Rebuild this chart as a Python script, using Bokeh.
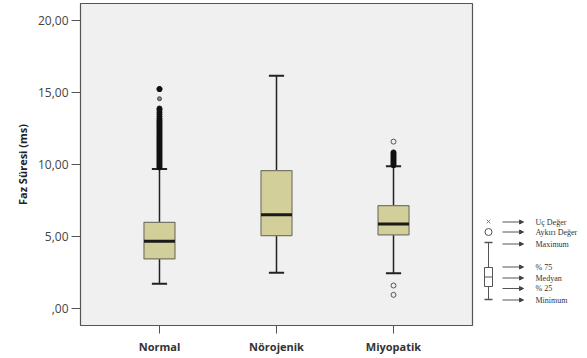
from bokeh.plotting import figure
from bokeh.layouts import row
from bokeh.models import FixedTicker, Range1d, Arrow, NormalHead
from bokeh.embed import file_html
from bokeh.resources import INLINE
from bokeh.core.properties import value

# ---------------- data ----------------
categories = ["Normal", "Nörojenik", "Miyopatik"]
lower_whisker = [1.72, 2.48, 2.45]
q1 = [3.45, 5.07, 5.12]
median = [4.67, 6.51, 5.88]
q3 = [5.99, 9.58, 7.15]
upper_whisker = [9.70, 16.18, 9.88]

normal_dense_outliers = [9.8, 9.9, 10.0, 10.1, 10.2, 10.3, 10.4, 10.5, 10.6, 10.7, 10.8,
                         10.9, 11.0, 11.1, 11.2, 11.3, 11.4, 11.5, 11.6, 11.7, 11.8, 11.9,
                         12.0, 12.1, 12.2, 12.3, 12.4, 12.5, 12.6, 12.7, 12.8, 12.9, 13.0,
                         13.1, 13.2, 13.35, 13.5, 13.65, 13.8, 13.9]
normal_single_outliers = [14.58]
normal_extremes = [15.25]
miyopatik_dense_outliers = [9.95, 10.05, 10.15, 10.25, 10.35, 10.45, 10.55, 10.65,
                            10.75, 10.85]
miyopatik_single_outliers = [11.6, 1.6, 0.95]

y_ticks = [0, 5, 10, 15, 20]
y_tick_labels = [",00", "5,00", "10,00", "15,00", "20,00"]

legend_labels = ["Uç Değer", "Aykırı Değer", "Maximum", "% 75", "Medyan", "% 25", "Minimum"]

# ---------------- main plot ----------------
xs = list(range(1, len(categories) + 1))
box_w = 0.265
cap_w = 0.13

p = figure(width=478, height=358, output_backend="svg", toolbar_location=None,
           x_range=Range1d(0.325, 3.675), y_range=Range1d(-1.18, 21.2),
           min_border_left=80, min_border_right=6, min_border_top=3, min_border_bottom=33)
p.background_fill_color = "#f0f0f0"
p.border_fill_color = "white"
p.outline_line_color = "#555555"
p.outline_line_width = 1.2
p.grid.visible = False

# whiskers
p.segment(x0=xs, x1=xs, y0=q3, y1=upper_whisker, line_color="#222222", line_width=1.5)
p.segment(x0=xs, x1=xs, y0=q1, y1=lower_whisker, line_color="#222222", line_width=1.5)
p.segment(x0=[x - cap_w / 2 for x in xs], x1=[x + cap_w / 2 for x in xs],
          y0=upper_whisker, y1=upper_whisker, line_color="#222222", line_width=2)
p.segment(x0=[x - cap_w / 2 for x in xs], x1=[x + cap_w / 2 for x in xs],
          y0=lower_whisker, y1=lower_whisker, line_color="#222222", line_width=2)
# boxes
p.vbar(x=xs, width=box_w, bottom=q1, top=q3, fill_color="#d3cf9a",
       line_color="#777766", line_width=1.2)
# medians
p.segment(x0=[x - box_w / 2 for x in xs], x1=[x + box_w / 2 for x in xs],
          y0=median, y1=median, line_color="#1a1a1a", line_width=3)

# outliers
p.scatter(x=[xs[0]] * len(normal_dense_outliers), y=normal_dense_outliers, marker="circle",
          size=5, fill_color="#111111", line_color="#111111", line_width=1)
p.scatter(x=[xs[0]] * len(normal_single_outliers), y=normal_single_outliers, marker="circle",
          size=4, fill_color="#888888", line_color="#444444", line_width=1)
p.scatter(x=[xs[0]] * len(normal_extremes), y=normal_extremes, marker="asterisk", size=6,
          line_color="#111111", line_width=2)
p.scatter(x=[xs[2]] * len(miyopatik_dense_outliers), y=miyopatik_dense_outliers,
          marker="circle", size=5, fill_color="#111111", line_color="#111111", line_width=1)
p.scatter(x=[xs[2]] * len(miyopatik_single_outliers), y=miyopatik_single_outliers,
          marker="circle", size=5, fill_color="#eeeeee", line_color="#555555", line_width=1)

# axes
p.yaxis.ticker = FixedTicker(ticks=y_ticks)
p.yaxis.major_label_overrides = {t: l for t, l in zip(y_ticks, y_tick_labels)}
p.yaxis.axis_label = "Faz Süresi (ms)"
p.yaxis.axis_label_text_font = "Open Sans"
p.yaxis.axis_label_text_font_style = "bold"
p.yaxis.axis_label_text_font_size = "11px"
p.yaxis.axis_label_text_color = "#222222"
p.yaxis.major_label_text_font = "Open Sans"
p.yaxis.major_label_text_font_size = "12px"
p.yaxis.major_label_text_color = "#444444"
p.yaxis.axis_line_color = None
p.yaxis.major_tick_in = 0
p.yaxis.major_tick_out = 9
p.yaxis.major_tick_line_color = "#555555"
p.yaxis.minor_tick_line_color = None
p.yaxis.major_label_standoff = 3

p.xaxis.ticker = FixedTicker(ticks=xs)
p.xaxis.major_label_overrides = {x: c for x, c in zip(xs, categories)}
p.xaxis.major_label_text_font = "Open Sans"
p.xaxis.major_label_text_font_style = "bold"
p.xaxis.major_label_text_font_size = "11px"
p.xaxis.major_label_text_color = "#333333"
p.xaxis.axis_line_color = None
p.xaxis.major_tick_in = 0
p.xaxis.major_tick_out = 8
p.xaxis.major_tick_line_color = "#555555"
p.xaxis.minor_tick_line_color = None
p.xaxis.major_label_standoff = 5

# ---------------- legend panel (pixel coordinates of the page) ----------------
lg = figure(width=109, height=358, output_backend="svg", toolbar_location=None,
            x_range=Range1d(0, 109), y_range=Range1d(325, 3),
            min_border_left=0, min_border_right=0, min_border_top=3, min_border_bottom=33)
lg.axis.visible = False
lg.grid.visible = False
lg.outline_line_color = None
lg.background_fill_color = "white"
lg.border_fill_color = "white"

gx = 10
lg.scatter(x=[gx], y=[221], marker="x", size=5, line_color="#777777", line_width=1)
lg.scatter(x=[gx], y=[231.5], marker="circle", size=7, fill_color="white",
           line_color="#555555", line_width=1)
lg.segment(x0=[gx, gx], x1=[gx, gx], y0=[242, 286], y1=[267, 299], line_color="#555555")
lg.segment(x0=[gx - 4, gx - 4], x1=[gx + 4, gx + 4], y0=[242, 299], y1=[242, 299],
           line_color="#555555", line_width=1.5)
lg.quad(left=[gx - 4], right=[gx + 4], top=[267], bottom=[286], fill_color="white",
        line_color="#555555")
lg.segment(x0=[gx - 4], x1=[gx + 4], y0=[276.5], y1=[276.5], line_color="#555555")

text_y = [221.5, 231.5, 243.5, 266.5, 277.5, 288, 299.5]
for ty in text_y:
    lg.add_layout(Arrow(end=NormalHead(size=4, fill_color="#444444", line_color="#444444"),
                        x_start=24, y_start=ty, x_end=45, y_end=ty,
                        line_color="#555555", line_width=1))
lg.text(x=[57] * len(legend_labels), y=text_y, text=legend_labels,
        text_font=value("Liberation Serif"), text_font_size="8px",
        text_color="#333333", text_baseline="middle", text_align="left")

layout = row(p, lg, spacing=0)
open("out.html", "w").write(file_html(layout, INLINE))
